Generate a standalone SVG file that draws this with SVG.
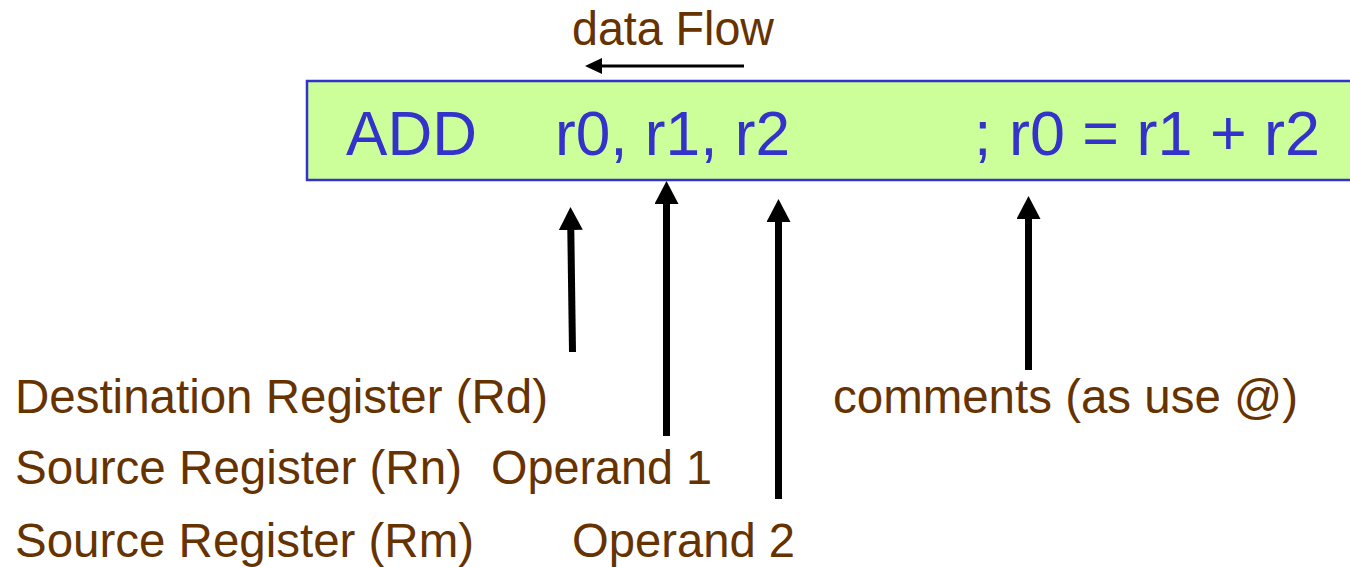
<svg xmlns="http://www.w3.org/2000/svg" width="1350" height="567" viewBox="0 0 1350 567">
<style>
.lbl{font-family:"Liberation Sans",Arial,sans-serif;font-size:48px;fill:#663300}
.code{font-family:"Liberation Sans",Arial,sans-serif;font-size:63px;fill:#3333CC}
.big{stroke:#000;stroke-width:7;fill:none}
.thin{stroke:#000;stroke-width:3;fill:none}
</style>
<defs>
<marker id="headBig" markerUnits="userSpaceOnUse" markerWidth="24" markerHeight="24" viewBox="0 0 24 24" refX="0" refY="12" orient="auto">
<path d="M0,0 L23,12 L0,24 Z" fill="#000"/>
</marker>
<marker id="headSmall" markerUnits="userSpaceOnUse" markerWidth="18" markerHeight="16" viewBox="0 0 18 16" refX="0" refY="8" orient="auto">
<path d="M0,0 L17,8 L0,16 Z" fill="#000"/>
</marker>
</defs>
<rect width="1350" height="567" fill="#fff"/>
<g id="instruction">
<rect x="307" y="81" width="1050" height="99" fill="#CCFF99" stroke="#3333CC" stroke-width="2.5"/>
<text class="code" x="346" y="155" textLength="131" lengthAdjust="spacingAndGlyphs">ADD</text>
<text class="code" x="555" y="155" textLength="235" lengthAdjust="spacingAndGlyphs">r0, r1, r2</text>
<text class="code" x="974" y="155" textLength="346" lengthAdjust="spacingAndGlyphs">; r0 = r1 + r2</text>
</g>
<g id="dataflow-label">
<text class="lbl" x="572" y="45" textLength="202" lengthAdjust="spacingAndGlyphs">data Flow</text>
</g>
<g id="label-rd">
<text class="lbl" x="15" y="413" textLength="533" lengthAdjust="spacingAndGlyphs">Destination Register (Rd)</text>
</g>
<g id="label-rn">
<text class="lbl" x="15" y="484" textLength="447" lengthAdjust="spacingAndGlyphs">Source Register (Rn)</text>
<text class="lbl" x="491" y="484" textLength="221" lengthAdjust="spacingAndGlyphs">Operand 1</text>
</g>
<g id="label-rm">
<text class="lbl" x="15" y="557" textLength="459" lengthAdjust="spacingAndGlyphs">Source Register (Rm)</text>
<text class="lbl" x="572" y="557" textLength="223" lengthAdjust="spacingAndGlyphs">Operand 2</text>
</g>
<g id="label-comments">
<text class="lbl" x="833" y="413" textLength="465" lengthAdjust="spacingAndGlyphs">comments (as use @)</text>
</g>
<g id="connectors">
<line class="thin" x1="744" y1="66" x2="602" y2="66" marker-end="url(#headSmall)"/>
<line class="big" x1="572.5" y1="352" x2="570.8" y2="230" marker-end="url(#headBig)"/>
<line class="big" x1="666.5" y1="436" x2="666.5" y2="204" marker-end="url(#headBig)"/>
<line class="big" x1="778.5" y1="499" x2="778.5" y2="222" marker-end="url(#headBig)"/>
<line class="big" x1="1028.5" y1="370" x2="1028.5" y2="219" marker-end="url(#headBig)"/>
</g>
</svg>
